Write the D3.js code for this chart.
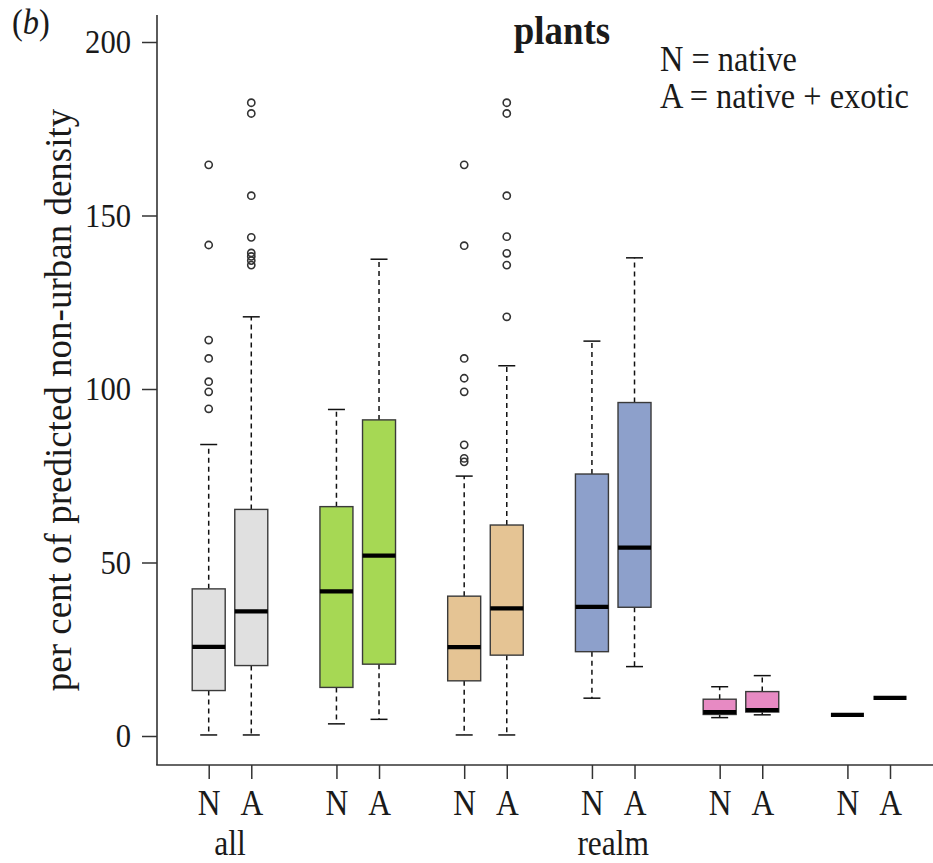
<!DOCTYPE html>
<html>
<head>
<meta charset="utf-8">
<script src="https://cdn.jsdelivr.net/npm/d3@7"></script>
<style>
  body { margin: 0; background: #fff; }
  svg text { font-family: "Liberation Serif", "Tinos", "Times New Roman", "DejaVu Serif", "Noto Serif", serif; fill: #1a1a1a; }
</style>
</head>
<body>
<svg id="chart" width="933" height="863"></svg>
<script>
// categorie
const groupLabels = ['all', '', '', 'realm', '', '']
const members = ['N', 'A']
const groupFills = ['#e0e0e0', '#a6d854', '#e5c494', '#8da0cb', '#e78ac3', '#ffffff']
const yTicks = [0, 50, 100, 150, 200]

// statistiche dei box (ordine: N, A per ogni gruppo)
const whiskerLow  = [0.3, 0.3, 3.5, 4.8, 0.3, 0.3, 10.9, 20.0, 5.3, 6.1, 6.1, 11.0]
const q1          = [13.1, 20.3, 14.0, 20.7, 15.9, 23.3, 24.3, 37.1, 6.2, 6.9, 6.1, 11.0]
const medians     = [25.7, 35.9, 41.7, 52.0, 25.6, 36.8, 37.2, 54.3, 6.9, 7.5, 6.1, 11.0]
const q3          = [42.4, 65.3, 66.1, 91.1, 40.3, 60.8, 75.5, 96.1, 10.6, 12.8, 6.1, 11.0]
const whiskerHigh = [84.0, 120.8, 94.1, 137.4, 74.9, 106.7, 113.8, 137.8, 14.2, 17.4, 6.1, 11.0]

// outlier
const outliers = [
  [94.3, 99.2, 102.1, 108.8, 114.1, 141.5, 164.6],
  [135.7, 137.0, 138.2, 139.2, 143.7, 155.7, 179.4, 182.5],
  [], [],
  [79.0, 80.0, 83.9, 99.2, 103.1, 108.8, 141.3, 164.6],
  [120.8, 135.7, 139.1, 143.9, 155.7, 179.4, 182.5],
  [], [], [], [], [], []
]

const svg = d3.select('#chart')
const squish = 'scale(0.9,1)'
const ink = '#333'

// posizione: gruppo * 3 + membro
const boxes = whiskerLow.map((d, i) => ({
  group: Math.floor(i / 2),
  member: members[i % 2],
  pos: Math.floor(i / 2) * 3 + (i % 2),
  lo: d, q1: q1[i], med: medians[i], q3: q3[i], hi: whiskerHigh[i],
  out: outliers[i]
}))

const xScale = d3.scaleLinear().domain([0, 16]).range([208.7, 890])
const yScale = d3.scaleLinear().domain([0, 200]).range([736, 42])

const boxW = 33
const capW = 17

// assi a L
svg.append('line').attr('x1', 157).attr('x2', 157).attr('y1', 15).attr('y2', 765)
  .style('stroke', ink).style('stroke-width', 1.6)
svg.append('line').attr('x1', 156.2).attr('x2', 933).attr('y1', 765).attr('y2', 765)
  .style('stroke', ink).style('stroke-width', 1.6)

// asse y
const yAxis = d3.axisLeft(yScale).tickValues(yTicks).tickSize(15).tickPadding(11)
const yG = svg.append('g').attr('transform', 'translate(157,0)').call(yAxis)
yG.attr('font-family', null).attr('font-size', null)
yG.select('.domain').remove()
yG.selectAll('.tick line').style('stroke', ink).style('stroke-width', 1.5)
yG.selectAll('.tick text')
  .style('font-size', '34px')
  .attr('fill', '#1a1a1a')
  .each(function () {
    const t = d3.select(this)
    const x = +t.attr('x')
    t.attr('x', 0).attr('transform', `translate(${x},0) ${squish}`)
  })

// asse x
const xAxis = d3.axisBottom(xScale)
  .tickValues(boxes.map(d => d.pos))
  .tickSize(14)
  .tickFormat((d, i) => boxes[i].member)
const xG = svg.append('g').attr('transform', 'translate(0,765)').call(xAxis)
xG.attr('font-family', null).attr('font-size', null)
xG.select('.domain').remove()
xG.selectAll('.tick line').style('stroke', ink).style('stroke-width', 1.5)
xG.selectAll('.tick text')
  .style('font-size', '35px')
  .attr('fill', '#1a1a1a')
  .attr('y', 0).attr('dy', 0)
  .attr('transform', `translate(0,50) ${squish}`)

// etichette gruppo
groupLabels.forEach((lab, g) => {
  if (!lab) return
  const cx = (xScale(g * 3) + xScale(g * 3 + 1)) / 2
  svg.append('text')
    .attr('transform', `translate(${cx},855) ${squish}`)
    .attr('text-anchor', 'middle')
    .style('font-size', '35px')
    .text(lab)
})

// whisker
const bx = svg.append('g')
const wh = bx.selectAll('g.box').data(boxes).enter().append('g').attr('class', 'box')

wh.append('line')
  .attr('x1', d => xScale(d.pos)).attr('x2', d => xScale(d.pos))
  .attr('y1', d => yScale(d.q3)).attr('y2', d => yScale(d.hi))
  .style('stroke', '#111').style('stroke-width', 1.5).style('stroke-dasharray', '5,4')
wh.append('line')
  .attr('x1', d => xScale(d.pos)).attr('x2', d => xScale(d.pos))
  .attr('y1', d => yScale(d.q1)).attr('y2', d => yScale(d.lo))
  .style('stroke', '#111').style('stroke-width', 1.5).style('stroke-dasharray', '5,4')

// cap
wh.filter(d => d.hi > d.lo).append('line')
  .attr('x1', d => xScale(d.pos) - capW / 2).attr('x2', d => xScale(d.pos) + capW / 2)
  .attr('y1', d => yScale(d.hi)).attr('y2', d => yScale(d.hi))
  .style('stroke', '#111').style('stroke-width', 1.5)
wh.filter(d => d.hi > d.lo).append('line')
  .attr('x1', d => xScale(d.pos) - capW / 2).attr('x2', d => xScale(d.pos) + capW / 2)
  .attr('y1', d => yScale(d.lo)).attr('y2', d => yScale(d.lo))
  .style('stroke', '#111').style('stroke-width', 1.5)

// box
wh.filter(d => d.q3 > d.q1).append('rect')
  .attr('x', d => xScale(d.pos) - boxW / 2)
  .attr('width', boxW)
  .attr('y', d => yScale(d.q3))
  .attr('height', d => yScale(d.q1) - yScale(d.q3))
  .style('fill', d => groupFills[d.group])
  .style('stroke', '#3a3a3a').style('stroke-width', 1.4)

// mediana
wh.append('line')
  .attr('x1', d => xScale(d.pos) - boxW / 2).attr('x2', d => xScale(d.pos) + boxW / 2)
  .attr('y1', d => yScale(d.med)).attr('y2', d => yScale(d.med))
  .style('stroke', '#000').style('stroke-width', 4.2)

// outlier
wh.selectAll('circle').data(d => d.out.map(v => ({ pos: d.pos, v }))).enter()
  .append('circle')
  .attr('cx', d => xScale(d.pos)).attr('cy', d => yScale(d.v))
  .attr('r', 3.6)
  .style('fill', 'none').style('stroke', '#333').style('stroke-width', 1.6)

// etichetta asse y
svg.append('text')
  .attr('transform', 'translate(71,400) rotate(-90)')
  .attr('text-anchor', 'middle')
  .style('font-size', '37px')
  .text('per cent of predicted non-urban density')

// titolo e legenda
svg.append('text')
  .attr('transform', `translate(562,44) ${squish}`)
  .attr('text-anchor', 'middle')
  .style('font-size', '41px').style('font-weight', 'bold')
  .text('plants')

svg.append('text')
  .attr('transform', `translate(660,71) ${squish}`)
  .style('font-size', '36px')
  .text('N = native')
svg.append('text')
  .attr('transform', `translate(660,108) ${squish}`)
  .style('font-size', '36px')
  .text('A = native + exotic')

// etichetta pannello
const lab = svg.append('text')
  .attr('transform', `translate(12,34) ${squish}`)
  .style('font-size', '36px')
lab.append('tspan').text('(')
lab.append('tspan').style('font-style', 'italic').text('b')
lab.append('tspan').text(')')
</script>
</body>
</html>
